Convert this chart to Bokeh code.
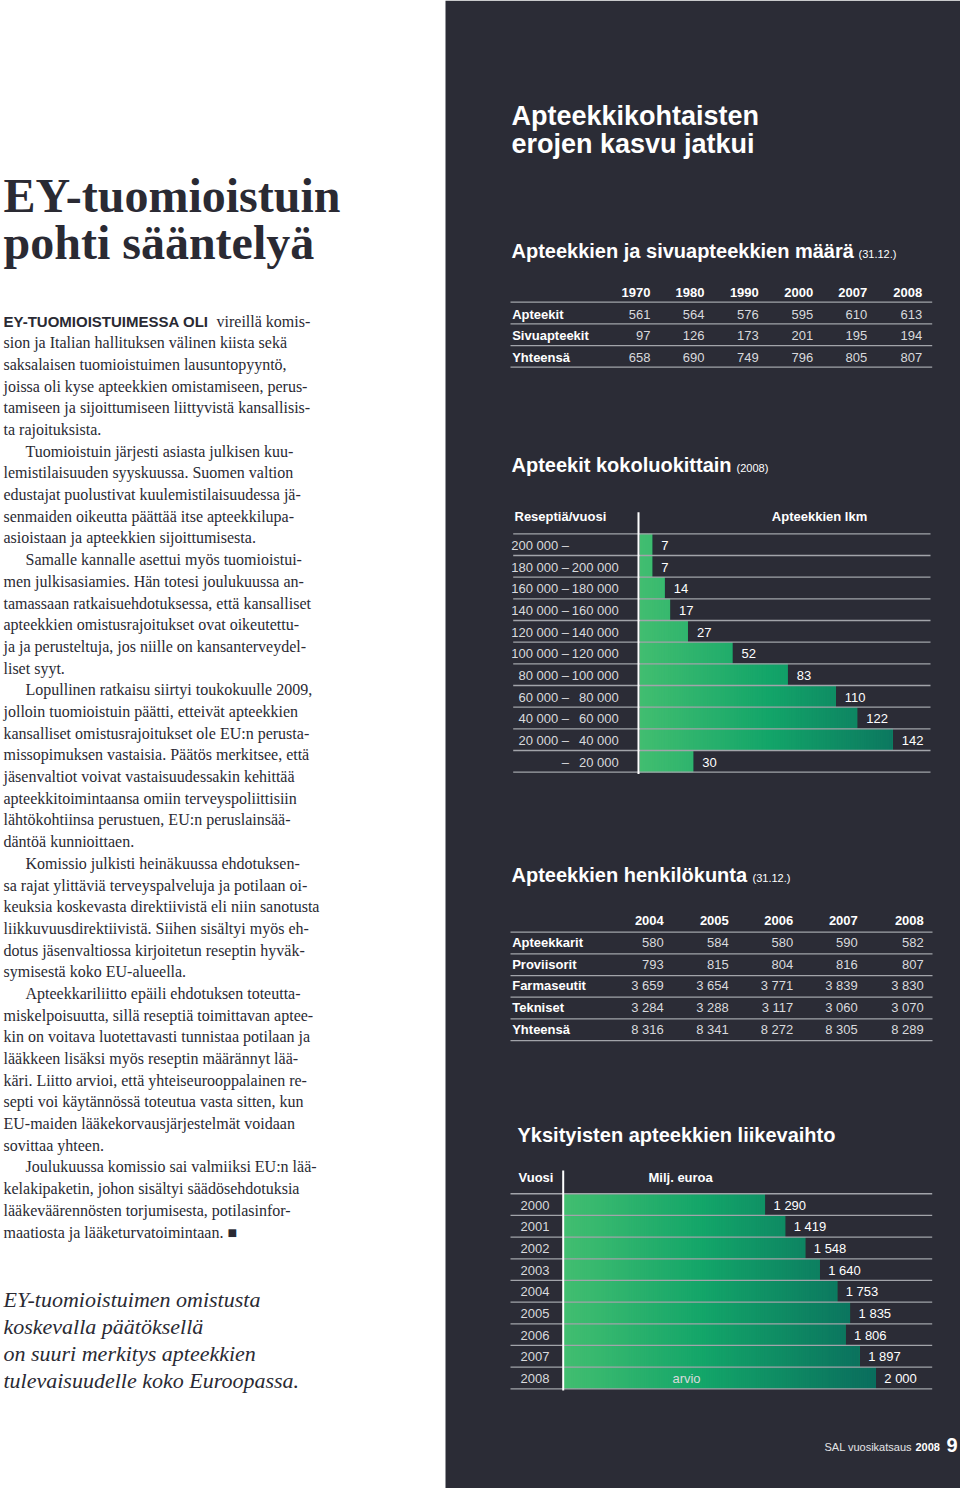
import numpy as np
from bokeh.plotting import figure
from bokeh.models import Range1d
from bokeh.core.properties import value
from bokeh.embed import file_html
from bokeh.resources import INLINE

# ---------------- data ----------------
count_years = ["1970", "1980", "1990", "2000", "2007", "2008"]
count_apteekit = [561, 564, 576, 595, 610, 613]
count_sivuapteekit = [97, 126, 173, 201, 195, 194]
count_yhteensa = [658, 690, 749, 796, 805, 807]

size_classes = ["200 000 –", "180 000 – 200 000", "160 000 – 180 000", "140 000 – 160 000",
                "120 000 – 140 000", "100 000 – 120 000", "80 000 – 100 000", "60 000 – 80 000",
                "40 000 – 60 000", "20 000 – 40 000", "– 20 000"]
size_counts = [7, 7, 14, 17, 27, 52, 83, 110, 122, 142, 30]

staff_years = ["2004", "2005", "2006", "2007", "2008"]
staff_apteekkarit = [580, 584, 580, 590, 582]
staff_proviisorit = [793, 815, 804, 816, 807]
staff_farmaseutit = [3659, 3654, 3771, 3839, 3830]
staff_tekniset = [3284, 3288, 3117, 3060, 3070]
staff_yhteensa = [8316, 8341, 8272, 8305, 8289]

turnover_years = ["2000", "2001", "2002", "2003", "2004", "2005", "2006", "2007", "2008"]
turnover_meur = [1290, 1419, 1548, 1640, 1753, 1835, 1806, 1897, 2000]

headline = ["EY-tuomioistuin", "pohti sääntelyä"]
lead_caps = "EY-TUOMIOISTUIMESSA OLI"
body_lines = [
    (0, "vireillä komis-"),
    (0, "sion ja Italian hallituksen välinen kiista sekä"),
    (0, "saksalaisen tuomioistuimen lausuntopyyntö,"),
    (0, "joissa oli kyse apteekkien omistamiseen, perus-"),
    (0, "tamiseen ja sijoittumiseen liittyvistä kansallisis-"),
    (0, "ta rajoituksista."),
    (1, "Tuomioistuin järjesti asiasta julkisen kuu-"),
    (0, "lemistilaisuuden syyskuussa. Suomen valtion"),
    (0, "edustajat puolustivat kuulemistilaisuudessa jä-"),
    (0, "senmaiden oikeutta päättää itse apteekkilupa-"),
    (0, "asioistaan ja apteekkien sijoittumisesta."),
    (1, "Samalle kannalle asettui myös tuomioistui-"),
    (0, "men julkisasiamies. Hän totesi joulukuussa an-"),
    (0, "tamassaan ratkaisuehdotuksessa, että kansalliset"),
    (0, "apteekkien omistusrajoitukset ovat oikeutettu-"),
    (0, "ja ja perusteltuja, jos niille on kansanterveydel-"),
    (0, "liset syyt."),
    (1, "Lopullinen ratkaisu siirtyi toukokuulle 2009,"),
    (0, "jolloin tuomioistuin päätti, etteivät apteekkien"),
    (0, "kansalliset omistusrajoitukset ole EU:n perusta-"),
    (0, "missopimuksen vastaisia. Päätös merkitsee, että"),
    (0, "jäsenvaltiot voivat vastaisuudessakin kehittää"),
    (0, "apteekkitoimintaansa omiin terveyspoliittisiin"),
    (0, "lähtökohtiinsa perustuen, EU:n peruslainsää-"),
    (0, "däntöä kunnioittaen."),
    (1, "Komissio julkisti heinäkuussa ehdotuksen-"),
    (0, "sa rajat ylittäviä terveyspalveluja ja potilaan oi-"),
    (0, "keuksia koskevasta direktiivistä eli niin sanotusta"),
    (0, "liikkuvuusdirektiivistä. Siihen sisältyi myös eh-"),
    (0, "dotus jäsenvaltiossa kirjoitetun reseptin hyväk-"),
    (0, "symisestä koko EU-alueella."),
    (1, "Apteekkariliitto epäili ehdotuksen toteutta-"),
    (0, "miskelpoisuutta, sillä reseptiä toimittavan aptee-"),
    (0, "kin on voitava luotettavasti tunnistaa potilaan ja"),
    (0, "lääkkeen lisäksi myös reseptin määrännyt lää-"),
    (0, "käri. Liitto arvioi, että yhteiseurooppalainen re-"),
    (0, "septi voi käytännössä toteutua vasta sitten, kun"),
    (0, "EU-maiden lääkekorvausjärjestelmät voidaan"),
    (0, "sovittaa yhteen."),
    (1, "Joulukuussa komissio sai valmiiksi EU:n lää-"),
    (0, "kelakipaketin, johon sisältyi säädösehdotuksia"),
    (0, "lääkeväärennösten torjumisesta, potilasinfor-"),
    (0, "maatiosta ja lääketurvatoimintaan. ■"),
]
quote_lines = ["EY-tuomioistuimen omistusta", "koskevalla päätöksellä",
               "on suuri merkitys apteekkien", "tulevaisuudelle koko Euroopassa."]

# ---------------- styles ----------------
SANS = "Liberation Sans"
SERIF = "Liberation Serif"
PANEL = "#2b2c36"
INK = "#2a2a33"
WHITE = "#ffffff"
LIGHT = "#d9dadd"
RULE = "#a2a4aa"
SHIFT = 0.37  # baseline correction (in em)

W, H = 960, 1488
p = figure(width=W, height=H, x_range=Range1d(0, W), y_range=Range1d(H, 0),
           x_axis_type=None, y_axis_type=None, output_backend="svg", toolbar_location=None,
           min_border=0, outline_line_color=None,
           background_fill_color="white", border_fill_color="white")


def T(xs, ys, texts, size, color, font=SANS, style="normal", align="left", **kw):
    p.text(x=list(xs), y=[y - SHIFT * size for y in ys], text=list(texts), text_font=value(font),
           text_font_size=f"{size}px", text_font_style=style, text_color=color,
           text_align=align, text_baseline="alphabetic", **kw)


def fmt(v):
    return f"{v:,}".replace(",", " ")


def grad_color(t):
    stops = [(0.0, (0x42, 0xbe, 0x70)), (0.45, (0x13, 0xa5, 0x69)), (1.0, (0x0a, 0x6d, 0x5d))]
    t = max(0.0, min(1.0, t))
    for (t0, c0), (t1, c1) in zip(stops[:-1], stops[1:]):
        if t <= t1:
            f = (t - t0) / (t1 - t0)
            c = [round(a + (b - a) * f) for a, b in zip(c0, c1)]
            return "#%02x%02x%02x" % tuple(c)
    return "#%02x%02x%02x" % stops[-1][1]


def grad_segments(vals, vmax, step):
    L, R, Y, C = [], [], [], []
    for i, v in enumerate(vals):
        a = 0.0
        while a < v:
            b = min(a + step, v)
            L.append(a)
            R.append(min(b + step * 0.6, v))
            Y.append(i)
            C.append(grad_color((a + b) / 2 / vmax))
            a = b
    return L, R, Y, C


# ---------------- left column ----------------
T([3, 3], [213, 260], headline, 48, INK, SERIF, "bold")

T([3], [326.5], [lead_caps], 15, INK, SANS, "bold")
bx, by, bt = [], [], []
for i, (ind, s) in enumerate(body_lines):
    y = 326.5 + i * 21.69
    x = 216 if i == 0 else (25 if ind else 3)
    bx.append(x); by.append(y); bt.append(s)
T(bx, by, bt, 16, INK, SERIF)

T([3] * 4, [1307 + 27 * i for i in range(4)], quote_lines, 22, INK, SERIF, "italic")

# ---------------- right panel ----------------
p.quad(left=[445], right=[W], top=[0], bottom=[H], fill_color=PANEL, line_color=None)

T([511, 511], [125, 153], ["Apteekkikohtaisten", "erojen kasvu jatkui"], 27, WHITE, style="bold")

# Table 1
T([511], [258], ["Apteekkien ja sivuapteekkien määrä"], 20, WHITE, style="bold")
T([858], [258], ["(31.12.)"], 11, WHITE)
c1 = [650, 704, 758.3, 812.7, 866.7, 921.7]
T(c1, [297] * 6, count_years, 13, WHITE, style="bold", align="right")
rows1 = [("Apteekit", count_apteekit), ("Sivuapteekit", count_sivuapteekit), ("Yhteensä", count_yhteensa)]
for j, (lab, vals) in enumerate(rows1):
    y = 318.5 + j * 21.67
    T([511.7], [y], [lab], 13, WHITE, style="bold")
    T(c1, [y] * 6, [fmt(v) for v in vals], 13, LIGHT, align="right")
ly = [301.7 + j * 21.67 for j in range(4)]
p.segment(x0=[510] * 4, x1=[931.7] * 4, y0=ly, y1=ly, line_color=RULE, line_width=1.3)

# Chart 1: size classes
T([511], [472], ["Apteekit kokoluokittain"], 20, WHITE, style="bold")
T([736], [472], ["(2008)"], 11, WHITE)
T([514], [520.7], ["Reseptiä/vuosi"], 13, WHITE, style="bold")
T([819], [520.7], ["Apteekkien lkm"], 13, WHITE, style="bold", align="center")

k1, x01, y1c, rh = 1.782, 639.3, 544.15, 21.67
k2, x02, y2c = 0.156, 563.3, 1204.1
p.extra_x_ranges = {"c1x": Range1d((0 - x01) / k1, (W - x01) / k1),
                    "c2x": Range1d((0 - x02) / k2, (W - x02) / k2)}
p.extra_y_ranges = {"c1y": Range1d((H - y1c) / rh, (0 - y1c) / rh),
                    "c2y": Range1d((H - y2c) / rh, (0 - y2c) / rh)}
TY = (5.5 - SHIFT * 13) / rh  # label baseline offset in row units

n1 = len(size_counts)
p.hbar(y=list(range(n1)), left=0, right=size_counts, height=1.0, fill_color="#14a468",
       line_color=None, x_range_name="c1x", y_range_name="c1y")
L, R, Y, C = grad_segments(size_counts, 160, 1.0)
p.hbar(y=Y, left=L, right=R, height=1.0, fill_color=C, line_color=None,
       x_range_name="c1x", y_range_name="c1y")

lows, highs = [], []
for s in size_classes:
    if " – " in s:
        a, b = s.split(" – ")
        lows.append(a + " –"); highs.append(b)
    elif s.startswith("–"):
        lows.append("–"); highs.append(s[1:].strip())
    else:
        lows.append(s); highs.append("")
yl = [i + TY for i in range(n1)]
p.text(x=[568.5] * n1, y=yl, text=lows, text_font=value(SANS), text_font_size="13px",
       text_color=LIGHT, text_align="right", text_baseline="alphabetic", y_range_name="c1y")
p.text(x=[618.3] * n1, y=yl, text=highs, text_font=value(SANS), text_font_size="13px",
       text_color=LIGHT, text_align="right", text_baseline="alphabetic", y_range_name="c1y")
p.text(x=size_counts, y=yl, text=[str(v) for v in size_counts], x_offset=9,
       text_font=value(SANS), text_font_size="13px", text_color=WHITE,
       text_baseline="alphabetic", x_range_name="c1x", y_range_name="c1y")
rl = [i - 0.5 for i in range(n1 + 1)]
p.segment(x0=[512.7] * (n1 + 1), x1=[930] * (n1 + 1), y0=rl, y1=rl, line_color=RULE,
          line_width=1.3, y_range_name="c1y")
p.segment(x0=[638], x1=[638], y0=[511.7], y1=[773.5], line_color=WHITE, line_width=2)

# Table 2: staff
T([511], [882], ["Apteekkien henkilökunta"], 20, WHITE, style="bold")
T([752], [882], ["(31.12.)"], 11, WHITE)
c2 = [663.3, 728.3, 792.7, 857.3, 923.3]
T(c2, [925] * 5, staff_years, 13, WHITE, style="bold", align="right")
rows2 = [("Apteekkarit", staff_apteekkarit), ("Proviisorit", staff_proviisorit),
         ("Farmaseutit", staff_farmaseutit), ("Tekniset", staff_tekniset),
         ("Yhteensä", staff_yhteensa)]
for j, (lab, vals) in enumerate(rows2):
    y = 946.7 + j * 21.67
    T([511.7], [y], [lab], 13, WHITE, style="bold")
    T(c2, [y] * 5, [fmt(v) for v in vals], 13, LIGHT, align="right")
ly2 = [931.7 + j * 21.67 for j in range(6)]
p.segment(x0=[510] * 6, x1=[932] * 6, y0=ly2, y1=ly2, line_color=RULE, line_width=1.3)

# Chart 2: turnover
T([517], [1141.7], ["Yksityisten apteekkien liikevaihto"], 20, WHITE, style="bold")
T([518], [1182], ["Vuosi"], 13, WHITE, style="bold")
T([648], [1182], ["Milj. euroa"], 13, WHITE, style="bold")
n2 = len(turnover_meur)
p.hbar(y=list(range(n2)), left=0, right=turnover_meur, height=1.0, fill_color="#13a066",
       line_color=None, x_range_name="c2x", y_range_name="c2y")
L, R, Y, C = grad_segments(turnover_meur, 2000, 12.0)
p.hbar(y=Y, left=L, right=R, height=1.0, fill_color=C, line_color=None,
       x_range_name="c2x", y_range_name="c2y")
yl2 = [i + TY for i in range(n2)]
p.text(x=[534.5] * n2, y=yl2, text=turnover_years, text_font=value(SANS), text_font_size="13px",
       text_color=LIGHT, text_align="center", text_baseline="alphabetic", y_range_name="c2y")
p.text(x=turnover_meur, y=yl2, text=[fmt(v) for v in turnover_meur], x_offset=8.5,
       text_font=value(SANS), text_font_size="13px", text_color=WHITE,
       text_baseline="alphabetic", x_range_name="c2x", y_range_name="c2y")
p.text(x=[686], y=[n2 - 1 + TY], text=["arvio"], text_font=value(SANS), text_font_size="13px",
       text_color=LIGHT, text_align="center", text_baseline="alphabetic", y_range_name="c2y")
rl2 = [i - 0.5 for i in range(n2 + 1)]
p.segment(x0=[510] * (n2 + 1), x1=[931.7] * (n2 + 1), y0=rl2, y1=rl2, line_color=RULE,
          line_width=1.3, y_range_name="c2y")
p.segment(x0=[562.7], x1=[562.7], y0=[1170], y1=[1390], line_color=WHITE, line_width=2)

# Footer
T([824], [1451], ["SAL vuosikatsaus"], 11, "#e4e4e6")
T([915], [1451], ["2008"], 11, WHITE, style="bold")
T([946], [1452], ["9"], 20, WHITE, style="bold")

open("out.html", "w").write(file_html(p, INLINE))
